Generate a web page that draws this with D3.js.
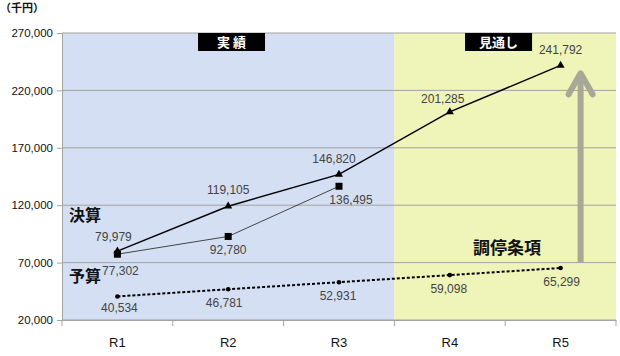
<!DOCTYPE html>
<html><head><meta charset="utf-8">
<script src="https://cdn.jsdelivr.net/npm/d3@7"></script>
<style>body{margin:0;background:#fff}svg{display:block}</style>
</head><body>
<svg id="c" width="620" height="356"></svg>
<script>
const categories = ["R1","R2","R3","R4","R5"];
const kessan = [79979,119105,146820,201285,241792];
const kessanSub = [77302,92780,136495];
const chotei = [40534,46781,52931,59098,65299];
const yTicks = [20000,70000,120000,170000,220000,270000];
const actualCats = ["R1","R2","R3"];
const forecastCats = ["R4","R5"];

const svg = d3.select("#c");
const L=62, R=616, T=33, B=320;
const x = d3.scaleBand().domain(categories).range([L,R]);
const y = d3.scaleLinear().domain([20000,270000]).range([B,T]);
const cx = c => x(c)+x.bandwidth()/2;
const numFont = "'Liberation Sans', Arial, sans-serif";
const jpFont = "'Noto Sans CJK JP', sans-serif";

// backgrounds
svg.append("rect").attr("x",x(actualCats[0])).attr("y",T)
  .attr("width",x.bandwidth()*actualCats.length).attr("height",B-T).attr("fill","#d4dff3");
svg.append("rect").attr("x",x(forecastCats[0])).attr("y",T)
  .attr("width",x.bandwidth()*forecastCats.length).attr("height",B-T).attr("fill","#eff4b8");

// gridlines
svg.append("g").selectAll("line").data(yTicks).join("line")
  .attr("x1",L).attr("x2",R).attr("y1",d=>y(d)).attr("y2",d=>y(d))
  .attr("stroke","#a3a3a0").attr("stroke-width",1);

// y axis
const ya = svg.append("g").attr("transform",`translate(${L},0)`)
  .call(d3.axisLeft(y).tickValues(yTicks).tickFormat(d3.format(",")).tickSize(5).tickPadding(4));
ya.select(".domain").attr("stroke","#a3a3a0");
ya.selectAll(".tick line").attr("stroke","#a3a3a0");
ya.selectAll("text").attr("font-family",numFont).attr("font-size",11.5).attr("fill","#111");

// x axis
const xa = svg.append("g").attr("transform",`translate(0,${B})`)
  .call(d3.axisBottom(x).tickSize(0).tickPadding(18));
xa.select(".domain").attr("stroke","#a3a3a0");
xa.selectAll("text").attr("font-family",numFont).attr("font-size",13).attr("fill","#111");
svg.append("g").selectAll("line").data(categories.concat(["end"])).join("line")
  .attr("x1",(d,i)=>L+i*x.bandwidth()).attr("x2",(d,i)=>L+i*x.bandwidth())
  .attr("y1",B).attr("y2",B+6).attr("stroke","#a3a3a0");

// unit
svg.append("text").attr("x",0).attr("y",12).text("（千円）")
  .attr("font-family",jpFont).attr("font-size",11).attr("font-weight","bold").attr("fill","#111");

// header boxes
function header(cat, frac, label){
  const w=67, h=18;
  const xc = x(cat) + x.bandwidth()*frac;
  svg.append("rect").attr("x",xc-w/2).attr("y",T).attr("width",w).attr("height",h).attr("fill","#000");
  svg.append("text").attr("x",xc).attr("y",T+14).attr("text-anchor","middle").text(label)
    .attr("font-family",jpFont).attr("font-size",13).attr("font-weight","bold").attr("fill","#fff");
}
header("R2",0.53,"実 績");
header("R4",0.94,"見通し");

// arrow
const ax = cx("R5")+20;
const tipV = 237500;
svg.append("line").attr("x1",ax).attr("x2",ax).attr("y1",y(70000)).attr("y2",y(tipV)+3)
  .attr("stroke","#a8a896").attr("stroke-width",6);
svg.append("path").attr("d",`M${ax-12},${y(tipV)+24} L${ax},${y(tipV)+3} L${ax+12},${y(tipV)+24}`)
  .attr("fill","none").attr("stroke","#a8a896").attr("stroke-width",6)
  .attr("stroke-linecap","round").attr("stroke-linejoin","round");

const line = d3.line().x(d=>cx(d.c)).y(d=>y(d.v));
const dK = kessan.map((v,i)=>({c:categories[i],v}));
const dS = kessanSub.map((v,i)=>({c:categories[i],v}));
const dC = chotei.map((v,i)=>({c:categories[i],v}));

// lines
svg.append("path").attr("d",line(dS)).attr("fill","none").attr("stroke","#333").attr("stroke-width",0.9);
svg.append("path").attr("d",line(dK)).attr("fill","none").attr("stroke","#000").attr("stroke-width",1.5);
svg.append("path").attr("d",line(dC)).attr("fill","none").attr("stroke","#000").attr("stroke-width",2)
  .attr("stroke-dasharray","3,2");

// markers
const tri = d3.symbol().type(d3.symbolTriangle).size(28);
svg.append("g").selectAll("path").data(dK).join("path").attr("d",tri)
  .attr("transform",d=>`translate(${cx(d.c)},${y(d.v)})`).attr("fill","#000");
svg.append("g").selectAll("rect").data(dS).join("rect")
  .attr("x",d=>cx(d.c)-3.5).attr("y",d=>y(d.v)-3.5).attr("width",7).attr("height",7).attr("fill","#000");
svg.append("g").selectAll("circle").data(dC).join("circle")
  .attr("cx",d=>cx(d.c)).attr("cy",d=>y(d.v)).attr("r",2.3).attr("fill","#000");

// data labels
const fmt = d3.format(",");
function labels(data, offs){
  svg.append("g").selectAll("text").data(data).join("text")
    .attr("x",(d,i)=>cx(d.c)+offs[i][0]).attr("y",(d,i)=>y(d.v)+offs[i][1])
    .attr("text-anchor","middle").text(d=>fmt(d.v))
    .attr("font-family",numFont).attr("font-size",12).attr("fill","#444");
}
labels(dK, [[-4,-10],[0,-12],[-5,-11],[-7,-9],[0,-11]]);
labels(dS, [[3,21],[0,18],[12,18]]);
labels(dC, [[2,16],[-4,18],[-1,18],[-1,18],[1,18]]);

// series text labels
function jp(txt,xx,yy,fs){
  svg.append("text").attr("x",xx).attr("y",yy).text(txt)
    .attr("font-family",jpFont).attr("font-size",fs).attr("font-weight","bold").attr("fill","#111");
}
jp("決算",69,221,16);
jp("予算",69,282,16);
jp("調停条項",473,254,17);
</script>
</body></html>
